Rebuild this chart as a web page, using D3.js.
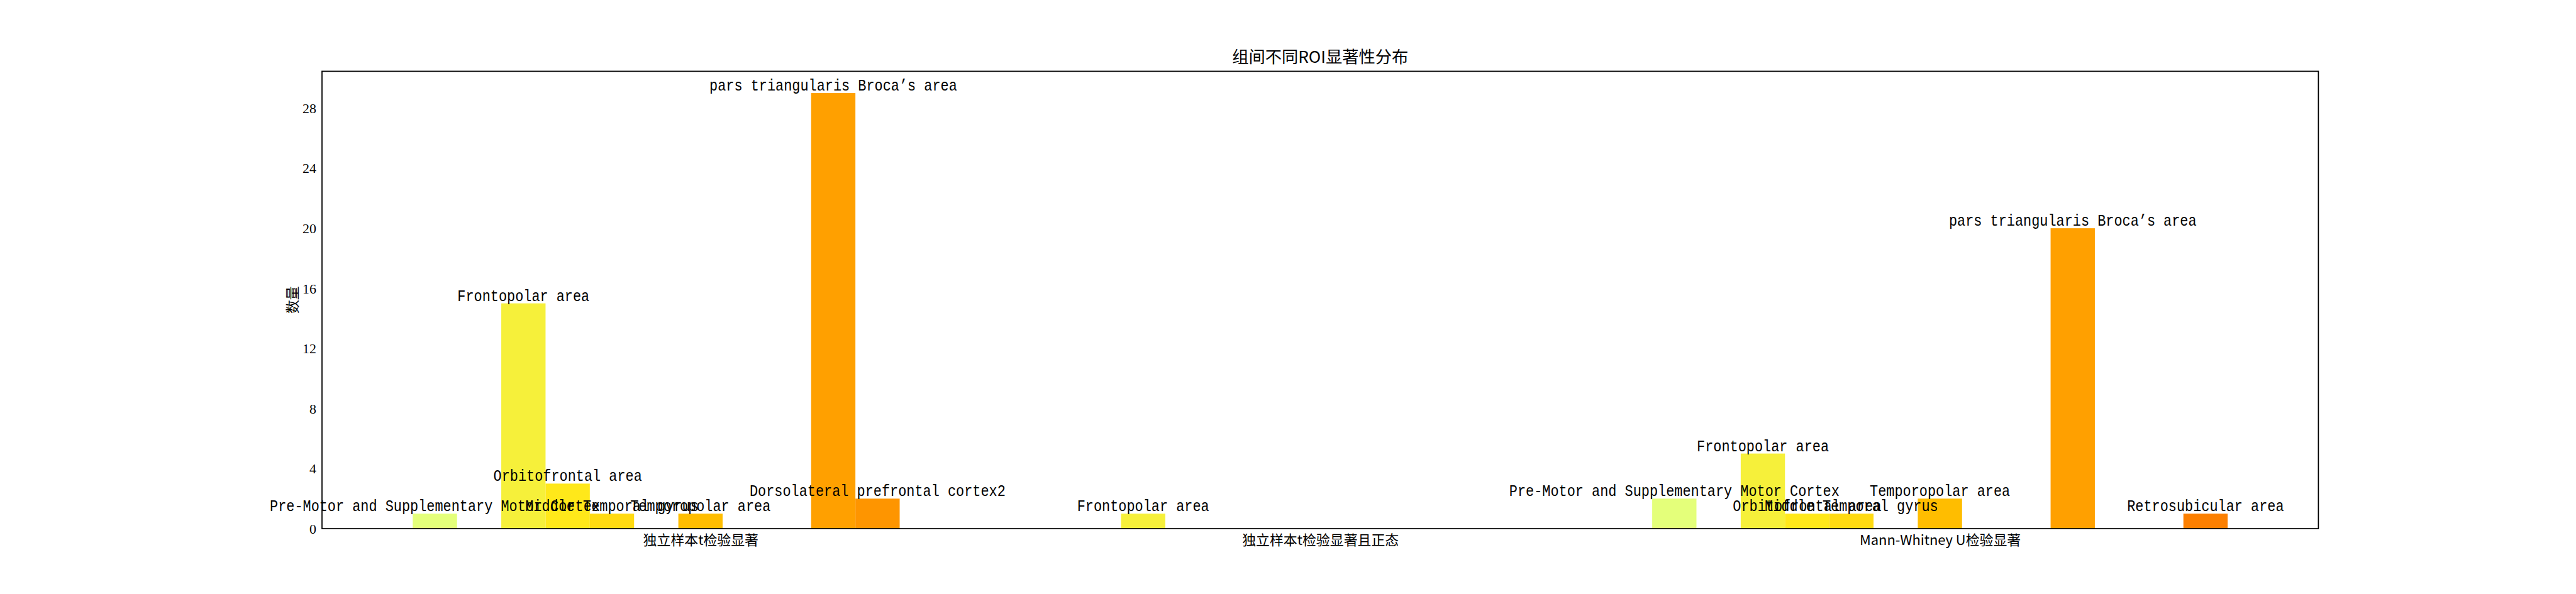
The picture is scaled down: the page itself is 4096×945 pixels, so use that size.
<!DOCTYPE html>
<html><head><meta charset="utf-8">
<script src="https://cdn.jsdelivr.net/npm/d3@7"></script>
<style>html,body{margin:0;padding:0;background:#fff;overflow:hidden}</style>
</head><body>
<script>
// ---- data ----
const groups = ["独立样本t检验显著", "独立样本t检验显著且正态", "Mann-Whitney U检验显著"];
// 13 ROI series (slots with all-zero counts are never labelled in the chart, names unknown)
const rois = [
  "Pre-Motor and Supplementary Motor Cortex",
  "",
  "Frontopolar area",
  "Orbitofrontal area",
  "Middle Temporal gyrus",
  "",
  "Temporopolar area",
  "",
  "",
  "pars triangularis Broca’s area",
  "Dorsolateral prefrontal cortex2",
  "",
  "Retrosubicular area"
];
const countsTTest       = [1, 0, 15, 3, 1, 0, 1, 0, 0, 29, 2, 0, 0];
const countsTTestNormal = [0, 0, 1, 0, 0, 0, 0, 0, 0, 0, 0, 0, 0];
const countsMannWhitney = [2, 0, 5, 1, 1, 0, 2, 0, 0, 20, 0, 0, 1];
const yTicks = [0, 4, 8, 12, 16, 20, 24, 28];
const titleText = "组间不同ROI显著性分布";
const yLabelText = "数量";
const wistiaStops = ["#e4ff7a", "#ffe81a", "#ffbd00", "#ffa000", "#fc7f00"];

// ---- layout ----
const W = 4096, H = 945, S = 0.525;
const L = 0.125 * W, R = 0.9 * W, T = 0.12 * H, B = 0.89 * H;
const countsByGroup = [countsTTest, countsTTestNormal, countsMannWhitney];
const nS = rois.length;
const bw = 1 / (nS + 1);

const inner = d3.scaleBand().domain(d3.range(nS)).range([-nS * bw / 2, nS * bw / 2]);
const xmin = -nS * bw / 2, xmax = groups.length - 1 + nS * bw / 2;
const pad = (xmax - xmin) * 0.05;
const x = d3.scaleLinear().domain([xmin - pad, xmax + pad]).range([L, R]);
const ymax = d3.max(countsByGroup.flat());
const y = d3.scaleLinear().domain([0, ymax * 1.05]).range([B, T]);
const color = d3.scaleSequential(d3.piecewise(d3.interpolateRgb, wistiaStops)).domain([0, nS - 1]);

const svg = d3.select("body").append("svg").attr("width", W).attr("height", H)
  .style("display", "block").style("background", "#fff");

const bars = [];
countsByGroup.forEach((arr, g) => arr.forEach((v, k) => bars.push({g, k, v})));

// bars
svg.append("g").selectAll("rect").data(bars).join("rect")
  .attr("x", d => x(d.g + inner(d.k)))
  .attr("width", x(inner.bandwidth()) - x(0))
  .attr("y", d => y(d.v))
  .attr("height", d => B - y(d.v))
  .attr("fill", d => color(d.k));

// frame
svg.append("rect").attr("x", L).attr("y", T).attr("width", R - L).attr("height", B - T)
  .attr("fill", "none").attr("stroke", "#000").attr("stroke-width", 1.75);

// y axis
const yAxis = svg.append("g").attr("transform", `translate(${L},0)`)
  .call(d3.axisLeft(y).tickValues(yTicks).tickSize(0).tickPadding(9).tickFormat(d3.format("d")));
yAxis.select(".domain").remove();
yAxis.selectAll("text").attr("font-family", "'Liberation Serif', serif").attr("font-size", 21.9)
  .attr("fill", "#000").attr("dy", "0.34em");

// x axis
const xAxis = svg.append("g").attr("transform", `translate(0,${B})`)
  .call(d3.axisBottom(x).tickValues(d3.range(groups.length)).tickFormat(i => groups[i]).tickSize(0));
xAxis.select(".domain").remove();
xAxis.selectAll("text").attr("font-family", "'Noto Sans CJK SC', sans-serif").attr("font-size", 21.9)
  .attr("fill", "#000").attr("y", 25.5).attr("dy", 0);

// y label
svg.append("text").attr("transform", `translate(463,${(T + B) / 2}) rotate(-90)`)
  .attr("text-anchor", "middle").attr("dominant-baseline", "central")
  .attr("font-family", "'Noto Sans CJK SC', sans-serif").attr("font-size", 21.9).text(yLabelText);

// title
svg.append("text").attr("x", (L + R) / 2).attr("y", 99.5).attr("text-anchor", "middle")
  .attr("font-family", "'Noto Sans CJK SC', sans-serif").attr("font-size", 26.25).text(titleText);

// bar labels (only above non-zero bars)
svg.append("g").selectAll("text").data(bars.filter(d => d.v > 0)).join("text")
  .attr("transform", d => `translate(${x(d.g + inner(d.k) + inner.bandwidth() / 2)},${y(d.v) - 4}) scale(0.8333,1)`)
  .attr("text-anchor", "middle")
  .attr("font-family", "'Liberation Mono', monospace").attr("font-size", 26.25)
  .attr("fill", "#000")
  .text(d => rois[d.k]);
</script>
</body></html>
